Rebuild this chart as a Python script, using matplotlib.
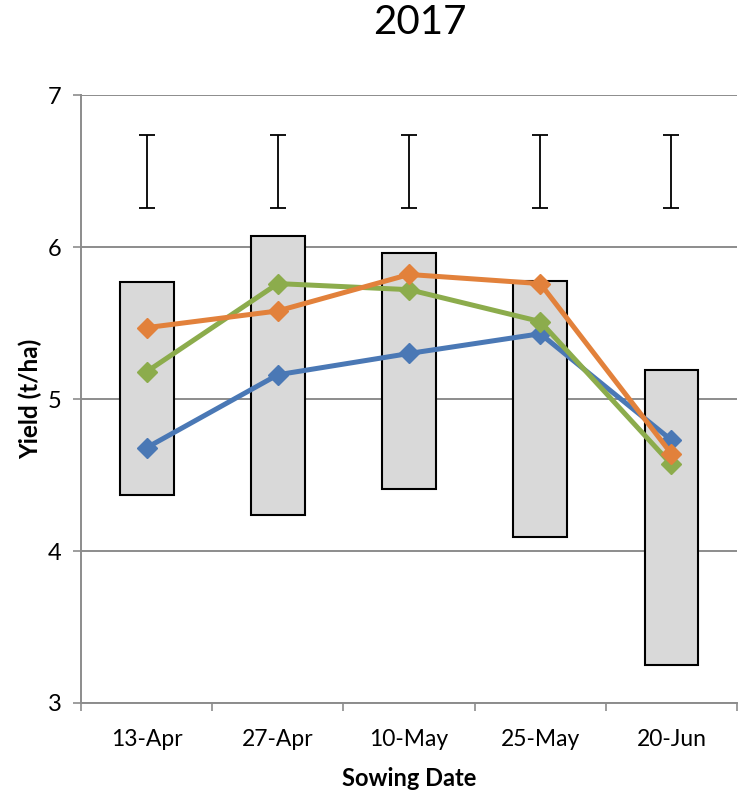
import matplotlib.pyplot as plt
import numpy as np

plt.rcParams['font.family'] = ['Lato', 'DejaVu Sans']

dates = ["13-Apr", "27-Apr", "10-May", "25-May", "20-Jun"]

# floating range bars (low / high yield)
range_low = [4.37, 4.24, 4.41, 4.09, 3.25]
range_high = [5.77, 6.07, 5.96, 5.78, 5.19]

# LSD bar shown above each sowing date
lsd_center = [6.50, 6.50, 6.50, 6.50, 6.50]
lsd_half = [0.24, 0.24, 0.24, 0.24, 0.24]

blue_vals = [4.68, 5.16, 5.30, 5.43, 4.73]
orange_vals = [5.47, 5.58, 5.82, 5.76, 4.64]
green_vals = [5.18, 5.76, 5.72, 5.51, 4.57]

x = np.arange(len(dates))

fig = plt.figure(figsize=(7.4, 7.93), dpi=100)
ax = fig.add_axes([0.1095, 0.1135, 0.8865, 0.7665])

heights = [h - l for h, l in zip(range_high, range_low)]
ax.bar(x, heights, bottom=range_low, width=0.41, color="#d9d9d9",
       edgecolor="black", linewidth=1.5, zorder=2)

ax.errorbar(x, lsd_center, yerr=lsd_half, fmt="none", ecolor="black",
            elinewidth=1.3, capsize=6, capthick=1.3, zorder=3)

for vals, col in [(blue_vals, "#4a78b5"), (green_vals, "#8cac4c"),
                  (orange_vals, "#e2813b")]:
    ax.plot(x, vals, color=col, linewidth=3.6, marker="D", markersize=10.5,
            zorder=4)

ax.set_xlim(-0.5, len(dates) - 0.5)
ax.set_ylim(3, 7)
ax.set_yticks([3, 4, 5, 6, 7])
ax.yaxis.grid(True, color="#8c8c8c", linewidth=1.4, zorder=0)
ax.set_axisbelow(True)

ax.set_xticks(x)
ax.set_xticklabels(dates, fontsize=16.5)
ax.set_xticks(np.arange(-0.5, len(dates)), minor=True)
ax.tick_params(axis="x", which="major", length=0, pad=19)
ax.tick_params(axis="x", which="minor", length=6, width=1.2, color="#8c8c8c")
ax.tick_params(axis="y", length=6, width=1.2, color="#8c8c8c",
               labelsize=17, pad=8)

for side in ["top", "right"]:
    ax.spines[side].set_visible(False)
for side in ["left", "bottom"]:
    ax.spines[side].set_color("#8c8c8c")
    ax.spines[side].set_linewidth(1.4)

ax.set_xlabel("Sowing Date", fontsize=17, fontweight="bold", labelpad=12)
ax.set_ylabel("Yield (t/ha)", fontsize=17.5, fontweight="bold", labelpad=4)
fig.text(0.568, 0.972, "2017", fontsize=29, ha="center", va="center")

fig.savefig("out.png", dpi=100)
